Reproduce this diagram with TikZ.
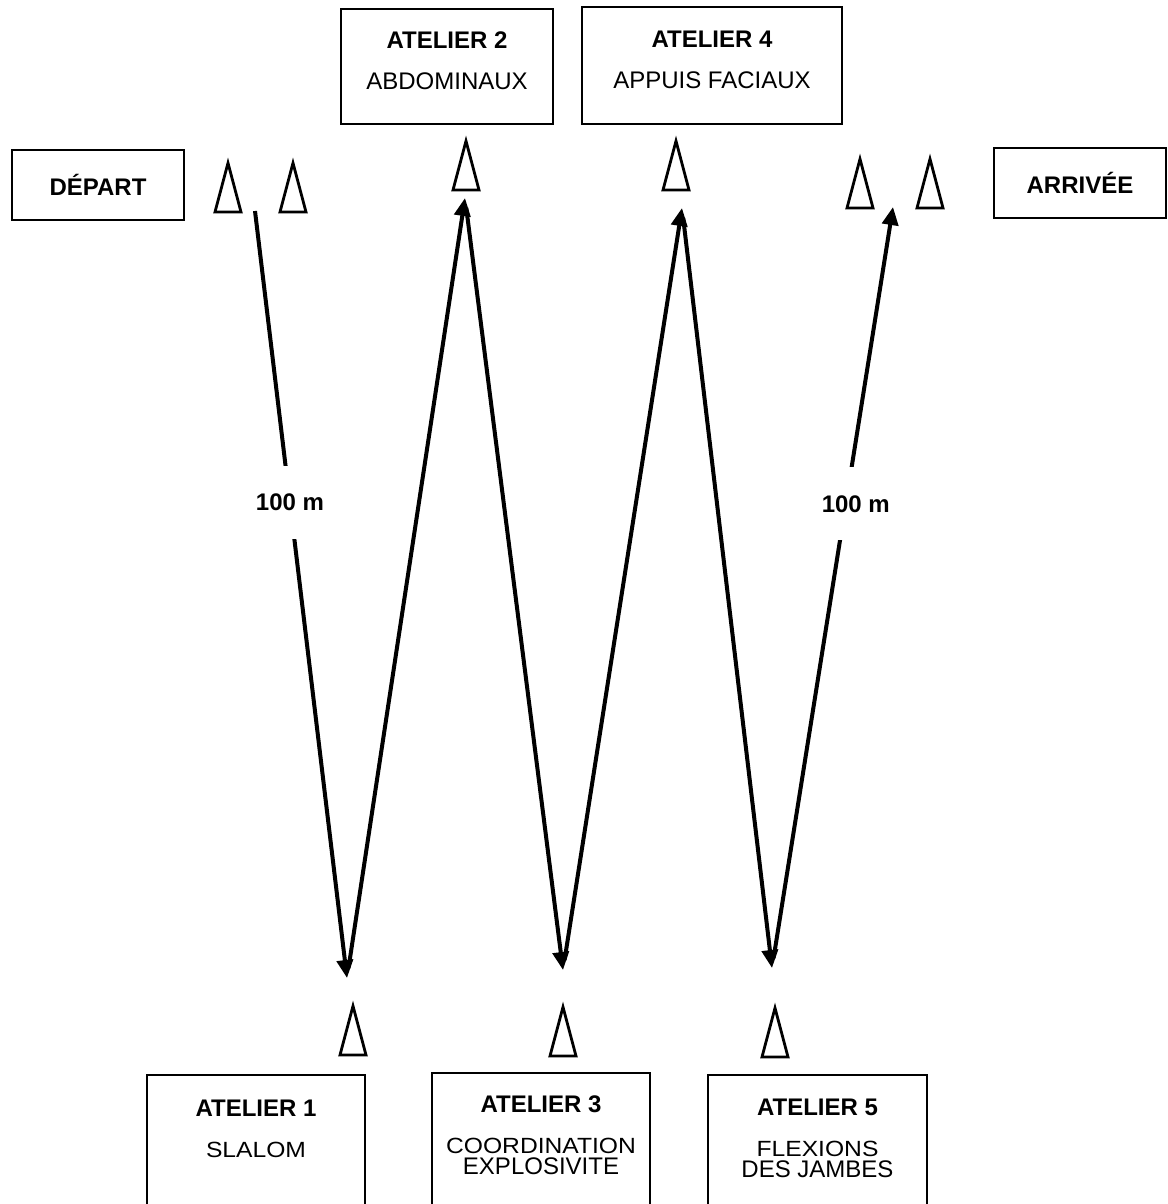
\documentclass[tikz,border=0pt]{standalone}
\usepackage{fontspec}
\setmainfont{Liberation Sans}
\newfontfamily\etirefont[FakeStretch=1.12]{Liberation Sans}
\newcommand{\etire}{\fontsize{11}{10.5}\etirefont}
\usetikzlibrary{arrows.meta}

\tikzset{
  boite/.style={draw, line width=1pt, inner sep=0pt},
  texte/.style={align=center, inner sep=0pt, font=\fontsize{12}{10.5}\selectfont},
  trajet/.style={line width=2pt, -{Triangle[length=9pt,width=8pt]}},
  etiquette/.style={fill=white, inner xsep=3pt, inner ysep=14pt, font=\bfseries\fontsize{12}{10}\selectfont},
  pics/cone/.style={code={
    \draw[line width=1.4pt, line join=miter] (-13,0) -- (0,-49) -- (13,0) -- cycle;
  }}
}

\begin{document}
\begin{tikzpicture}[x=0.5pt, y=-0.5pt]
  \useasboundingbox (0,0) rectangle (1167,1204);
  \clip (0,0) rectangle (1167,1204);

  % départ et arrivée
  \node[boite, minimum width=86pt, minimum height=35pt, texte, font=\bfseries\fontsize{12}{10}\selectfont] (depart) at (98,185) {DÉPART};
  \node[boite, minimum width=86pt, minimum height=35pt, texte, font=\bfseries\fontsize{12}{10}\selectfont] (arrivee) at (1080,183) {ARRIVÉE};

  % ateliers du haut
  \node[boite, minimum width=106pt, minimum height=57.5pt] (at2) at (447,66.5) {};
  \node[texte] (t2) at (447,61) {\textbf{ATELIER 2}\\[10pt]ABDOMINAUX};
  \node[boite, minimum width=130pt, minimum height=58.5pt] (at4) at (712,65.5) {};
  \node[texte] (t4) at (712,60) {\textbf{ATELIER 4}\\[10pt]APPUIS FACIAUX};

  % ateliers du bas
  \node[boite, anchor=north, minimum width=109pt, minimum height=80pt] (at1) at (256,1074) {};
  \node[texte] (t1) at (256,1128.6) {\textbf{ATELIER 1}\\[10pt]\etire SLALOM};
  \node[boite, anchor=north, minimum width=109pt, minimum height=80pt] (at3) at (541,1072) {};
  \node[texte] (t3) at (541,1135.6) {\textbf{ATELIER 3}\\[10pt]\etire COORDINATION\\EXPLOSIVITE};
  \node[boite, anchor=north, minimum width=109.5pt, minimum height=80pt] (at5) at (817.5,1074) {};
  \node[texte] (t5) at (817.5,1138.6) {\textbf{ATELIER 5}\\[10pt]\etire FLEXIONS\\DES JAMBES};

  % plots
  \pic at (228,212) {cone};
  \pic at (293,212) {cone};
  \pic at (466,190) {cone};
  \pic at (676,190) {cone};
  \pic at (860,208) {cone};
  \pic at (930,208) {cone};
  \pic at (353,1055) {cone};
  \pic at (563,1056) {cone};
  \pic at (775,1057) {cone};

  % points du parcours
  \coordinate (d0) at (255,211);
  \coordinate (bas1) at (347,978);
  \coordinate (haut2) at (465,198);
  \coordinate (bas3) at (563,970);
  \coordinate (haut4) at (682,208);
  \coordinate (bas5) at (772,968);
  \coordinate (arr) at (893,207);

  % parcours
  \draw[trajet] (d0) -- node[etiquette, pos=0.38] (dist1) {100 m} (bas1);
  \draw[trajet, shorten <=5pt] (bas1) -- (haut2);
  \draw[trajet, shorten <=5pt] (haut2) -- (bas3);
  \draw[trajet, shorten <=5pt] (bas3) -- (haut4);
  \draw[trajet, shorten <=5pt] (haut4) -- (bas5);
  \draw[trajet, shorten <=5pt] (bas5) -- node[etiquette, pos=0.61, xshift=5pt] (dist2) {100 m} (arr);

\end{tikzpicture}
\end{document}
